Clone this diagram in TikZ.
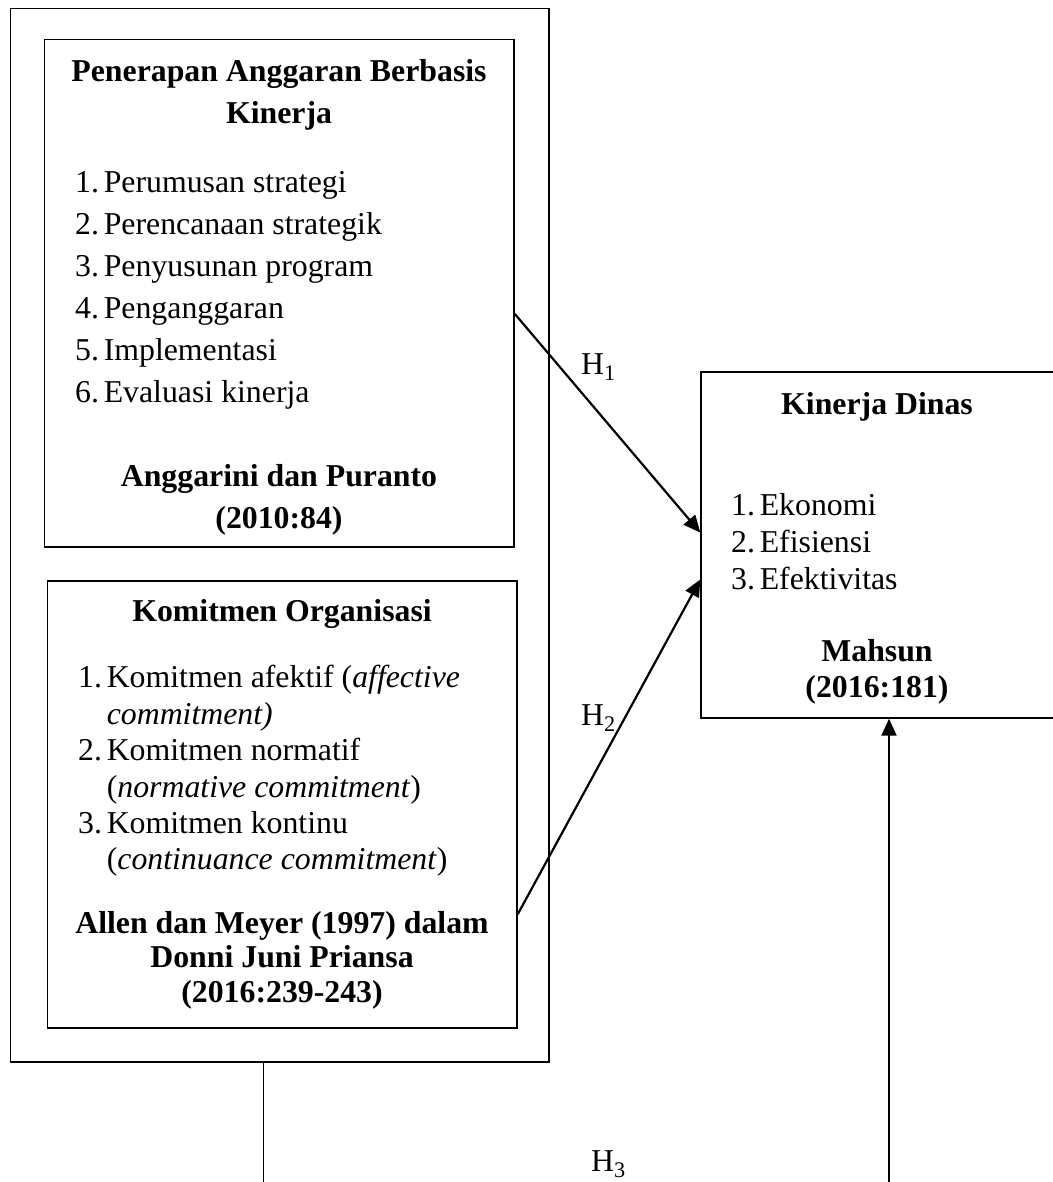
\documentclass[tikz,border=0pt]{standalone}
\usepackage{fontspec}
\setmainfont{Liberation Serif}
\usetikzlibrary{arrows.meta, positioning, calc}

\newcommand{\itemno}[1]{\makebox[28.6pt][l]{#1}}
\newcommand{\contline}{\hspace*{28.6pt}}

\begin{document}
\begin{tikzpicture}[x=1pt, y=-1pt, font=\fontsize{31.8}{42}\selectfont,
    box/.style={draw, line width=1.4pt, inner sep=0pt},
    title/.style={font=\fontsize{31.8}{42}\selectfont\bfseries, align=center, inner sep=0pt},
    list/.style={align=left, anchor=west, inner sep=0pt},
    conn/.style={line width=2.2pt, -{Triangle[length=17pt,width=15pt]}}]
    \useasboundingbox (0,0) rectangle (1052,1182);

    \node[box, minimum width=538.3pt, minimum height=1053.6pt] (outer) at (279.85,535.2) {};
    \node[box, minimum width=469.4pt, minimum height=507.6pt] (pab) at (279.3,293.2) {};
    \node[box, minimum width=469.5pt, minimum height=447pt] (komit) at (282.25,804.5) {};
    \node[box, minimum width=353pt, minimum height=346pt] (kinerja) at (877.5,545) {};

    \node[title] (pabtitle) at (279,95) {Penerapan Anggaran Berbasis\\Kinerja};
    \node[list, font=\fontsize{31.8}{42}\selectfont] (pablist) at (75,290)
        {\itemno{1.}Perumusan strategi\\\itemno{2.}Perencanaan strategik\\\itemno{3.}Penyusunan program\\\itemno{4.}Penganggaran\\\itemno{5.}Implementasi\\\itemno{6.}Evaluasi kinerja};
    \node[title] (pabref) at (279,500) {Anggarini dan Puranto\\(2010:84)};

    \node[title] (komtitle) at (282,614) {Komitmen Organisasi};
    \node[list, font=\fontsize{31.8}{36.4}\selectfont] (komlist) at (78,771)
        {\itemno{1.}Komitmen afektif (\textit{affective}\\\contline\textit{commitment)}\\\itemno{2.}Komitmen normatif\\\contline(\textit{normative commitment})\\\itemno{3.}Komitmen kontinu\\\contline(\textit{continuance commitment})};
    \node[title, font=\fontsize{31.8}{34.5}\selectfont\bfseries] (komref) at (282,960) {Allen dan Meyer (1997) dalam\\Donni Juni Priansa\\(2016:239-243)};

    \node[title] (kintitle) at (877,407) {Kinerja Dinas};
    \node[list, font=\fontsize{31.8}{37}\selectfont] (kinlist) at (731,542)
        {\itemno{1.}Ekonomi\\\itemno{2.}Efisiensi\\\itemno{3.}Efektivitas};
    \node[title, font=\fontsize{31.8}{36}\selectfont\bfseries] (kinref) at (877,672) {Mahsun\\(2016:181)};

    \node[anchor=base west, inner sep=0pt] (h1) at (581,374) {H\textsubscript{1}};
    \node[anchor=base west, inner sep=0pt] (h2) at (581,725) {H\textsubscript{2}};
    \node[anchor=base west, inner sep=0pt] (h3) at (591,1171) {H\textsubscript{3}};

    \coordinate (h3left) at (263.6,1182);
    \coordinate (h3right) at (889,1182);

    \draw[conn] (pab.-5.3) -- (kinerja.176.4);
    \draw[conn] (komit.-25.4) -- (kinerja.191.5);
    \draw[line width=1.4pt] (outer.south -| h3left) -- (h3left);
    \draw[conn] (h3right) -- (kinerja.south -| h3right);
\end{tikzpicture}
\end{document}
